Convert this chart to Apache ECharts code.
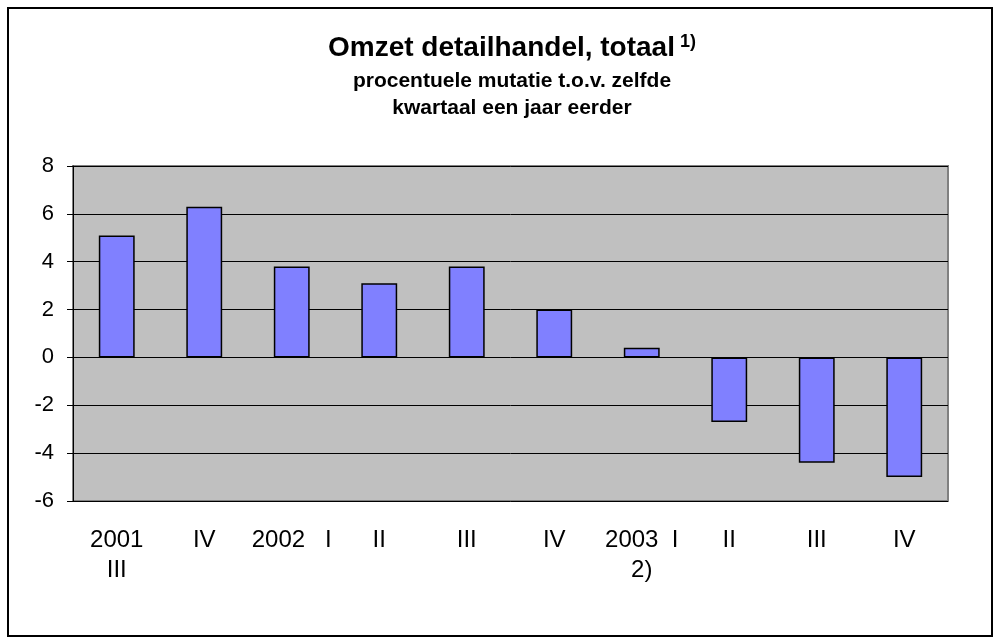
<!DOCTYPE html>
<html>
<head>
<meta charset="utf-8">
<script src="https://cdn.jsdelivr.net/npm/echarts@6/dist/echarts.min.js"></script>
<style>
  html, body { margin: 0; padding: 0; background: #fff; }
  #chart { width: 1000px; height: 644px; }
</style>
</head>
<body>
<div id="chart"></div>
<script>
// Data
const categories = ['2001\nIII', 'IV', '2002   I', 'II', 'III', 'IV', '2003  I\n2)', 'II', 'III', 'IV'];
const values = [5.1, 6.3, 3.8, 3.1, 3.8, 2.0, 0.4, -2.7, -4.4, -5.0];
const yMin = -6, yMax = 8, yStep = 2;
const titleText = 'Omzet detailhandel, totaal';
const titleNote = '1)';
const subtitleText = 'procentuele mutatie t.o.v. zelfde\nkwartaal een jaar eerder';

const FONT = '"Liberation Sans", Arial, sans-serif';
const chart = echarts.init(document.getElementById('chart'));

chart.setOption({
  animation: false,
  backgroundColor: '#ffffff',
  title: [
    {
      text: '{a|' + titleText + '} {s|' + titleNote + '}',
      left: 507,
      textAlign: 'center',
      top: 28,
      textStyle: {
        rich: {
          a: { fontSize: 28, fontWeight: 'bold', fontFamily: FONT, color: '#000', lineHeight: 31 },
          s: { fontSize: 18, fontWeight: 'bold', fontFamily: FONT, color: '#000', lineHeight: 18, verticalAlign: 'top' }
        }
      }
    },
    {
      text: subtitleText,
      left: 507,
      textAlign: 'center',
      top: 63,
      textStyle: { fontSize: 21, fontWeight: 'bold', fontFamily: FONT, color: '#000', lineHeight: 27, align: 'center' }
    }
  ],
  graphic: [
    {
      type: 'rect',
      shape: { x: 8, y: 8, width: 984, height: 628 },
      style: { fill: 'none', stroke: '#000', lineWidth: 2 },
      z: 100
    }
  ],
  grid: {
    left: 73, right: 52, top: 166, bottom: 143,
    show: true,
    backgroundColor: '#C0C0C0',
    borderColor: '#808080',
    borderWidth: 2
  },
  xAxis: {
    type: 'category',
    data: categories,
    axisLine: { show: false, onZero: false },
    axisTick: { show: false },
    axisLabel: {
      interval: 0,
      fontSize: 24,
      lineHeight: 30,
      fontFamily: FONT,
      color: '#000',
      margin: 24
    },
    splitLine: { show: false }
  },
  yAxis: {
    type: 'value',
    min: yMin, max: yMax, interval: yStep,
    axisLine: { show: true, lineStyle: { color: '#000', width: 1 } },
    axisTick: { show: true, length: 6, lineStyle: { color: '#000', width: 1 } },
    axisLabel: { fontSize: 22, fontFamily: FONT, color: '#000', margin: 19 },
    splitLine: { show: true, lineStyle: { color: '#000', width: 1 } }
  },
  series: [
    {
      type: 'bar',
      data: values,
      barWidth: '41%',
      itemStyle: { color: '#8080FF', borderColor: '#000', borderWidth: 1.5 }
    }
  ]
});
</script>
</body>
</html>
